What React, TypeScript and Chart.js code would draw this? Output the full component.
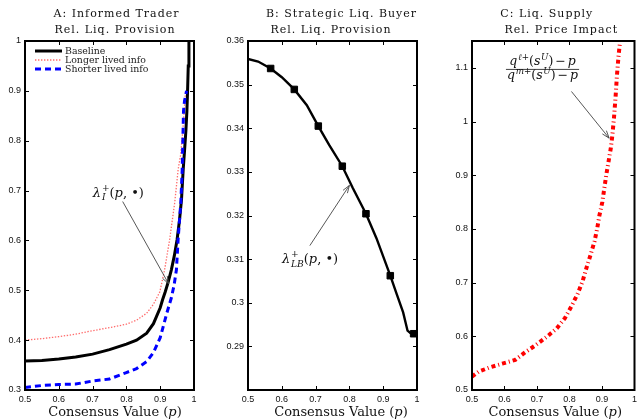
import React, { useEffect, useRef } from 'react';
import { Chart, registerables } from 'chart.js';
Chart.register(...registerables);

const SERIF = '"DejaVu Serif", "Liberation Serif", serif';
const SANS = '"Liberation Sans", Arial, sans-serif';

// ---------------- data ----------------
const xTicks = [0.5, 0.6, 0.7, 0.8, 0.9, 1];
const aYTicks = [0.3, 0.4, 0.5, 0.6, 0.7, 0.8, 0.9, 1];
const bYTicks = [0.29, 0.3, 0.31, 0.32, 0.33, 0.34, 0.35, 0.36];
const cYTicks = [0.5, 0.6, 0.7, 0.8, 0.9, 1, 1.1];

// Panel A: Informed trader relative liquidity provision
const aBaseP = [0.5, 0.55, 0.6, 0.65, 0.7, 0.75, 0.8, 0.83, 0.86, 0.88, 0.9, 0.907, 0.915, 0.923, 0.933, 0.942, 0.95, 0.957, 0.963, 0.968, 0.972, 0.976, 0.979, 0.981, 0.983, 0.985];
const aBaseV = [0.358, 0.359, 0.362, 0.366, 0.372, 0.381, 0.392, 0.4, 0.414, 0.433, 0.465, 0.481, 0.497, 0.515, 0.541, 0.57, 0.602, 0.64, 0.682, 0.742, 0.78, 0.82, 0.86, 0.9, 0.95, 1.02];
const aLongP = [0.5, 0.55, 0.6, 0.65, 0.7, 0.75, 0.8, 0.83, 0.86, 0.88, 0.899, 0.913, 0.928, 0.943, 0.953, 0.96, 0.967, 0.972, 0.975];
const aLongV = [0.4, 0.403, 0.407, 0.412, 0.419, 0.425, 0.432, 0.44, 0.454, 0.472, 0.497, 0.541, 0.602, 0.676, 0.742, 0.77, 0.82, 0.87, 0.9];
const aShortP = [0.5, 0.55, 0.6, 0.65, 0.7, 0.75, 0.8, 0.83, 0.86, 0.88, 0.9, 0.92, 0.933, 0.941, 0.948, 0.953, 0.961, 0.965, 0.967, 0.969, 0.972, 0.978];
const aShortV = [0.305, 0.309, 0.311, 0.312, 0.318, 0.322, 0.335, 0.343, 0.357, 0.375, 0.405, 0.455, 0.485, 0.51, 0.541, 0.602, 0.676, 0.74, 0.8, 0.86, 0.88, 0.9];
const aLegend = ['Baseline', 'Longer lived info', 'Shorter lived info'];

// Panel B: Strategic liquidity buyer
const bLineP = [0.5, 0.53, 0.567, 0.6, 0.637, 0.674, 0.708, 0.74, 0.779, 0.81, 0.849, 0.88, 0.921, 0.94, 0.959, 0.972, 0.98, 0.99];
const bLineV = [0.3559, 0.3553, 0.3537, 0.3517, 0.3489, 0.3453, 0.3405, 0.3362, 0.3313, 0.3263, 0.3204, 0.3148, 0.3062, 0.302, 0.2978, 0.2936, 0.2931, 0.2929];
const bMarkP = [0.567, 0.637, 0.708, 0.779, 0.849, 0.921, 0.99];
const bMarkV = [0.3537, 0.3489, 0.3405, 0.3313, 0.3204, 0.3062, 0.2929];

// Panel C: Liquidity supply relative price impact
const cP = [0.5, 0.52, 0.554, 0.593, 0.633, 0.663, 0.697, 0.732, 0.761, 0.786, 0.806, 0.825, 0.84, 0.852, 0.865, 0.877, 0.885, 0.892, 0.901, 0.907, 0.913, 0.92, 0.927, 0.932, 0.937, 0.942, 0.946, 0.951, 0.956];
const cV = [0.525, 0.534, 0.542, 0.549, 0.556, 0.57, 0.584, 0.6, 0.615, 0.634, 0.656, 0.679, 0.702, 0.727, 0.752, 0.777, 0.8, 0.825, 0.85, 0.875, 0.9, 0.925, 0.95, 0.975, 1.008, 1.048, 1.086, 1.123, 1.151];

// ---------------- text helpers ----------------
type Seg = { t: string; it?: boolean; sup?: string; sub?: string; supIt?: boolean; subIt?: boolean; gap?: number };

const fnt = (size: number, it?: boolean) => `${it ? 'italic ' : ''}${size}px ${SERIF}`;

function segWidth(ctx: CanvasRenderingContext2D, s: Seg, size: number) {
  ctx.font = fnt(size, s.it);
  const w = ctx.measureText(s.t).width;
  const ss = size * 0.7;
  let ws = 0;
  if (s.sup) { ctx.font = fnt(ss, s.supIt); ws = Math.max(ws, ctx.measureText(s.sup).width); }
  if (s.sub) { ctx.font = fnt(ss, s.subIt); ws = Math.max(ws, ctx.measureText(s.sub).width); }
  return w + ws + (ws ? size * 0.06 : 0) + (s.gap || 0);
}

function richWidth(ctx: CanvasRenderingContext2D, segs: Seg[], size: number) {
  return segs.reduce((a, s) => a + segWidth(ctx, s, size), 0);
}

function drawRich(ctx: CanvasRenderingContext2D, segs: Seg[], x: number, y: number, size: number, align: 'left' | 'center') {
  const total = richWidth(ctx, segs, size);
  let cx = align === 'center' ? x - total / 2 : x;
  ctx.textAlign = 'left';
  ctx.textBaseline = 'alphabetic';
  for (const s of segs) {
    ctx.font = fnt(size, s.it);
    ctx.fillText(s.t, cx, y);
    const w = ctx.measureText(s.t).width;
    const ss = size * 0.7;
    if (s.sup) { ctx.font = fnt(ss, s.supIt); ctx.fillText(s.sup, cx + w + size * 0.06, y - size * 0.42); }
    if (s.sub) { ctx.font = fnt(ss, s.subIt); ctx.fillText(s.sub, cx + w + size * 0.06, y + size * 0.3); }
    cx += segWidth(ctx, s, size);
  }
  return total;
}

function drawArrow(ctx: CanvasRenderingContext2D, x1: number, y1: number, x2: number, y2: number) {
  ctx.save();
  ctx.strokeStyle = '#444';
  ctx.lineWidth = 0.9;
  ctx.setLineDash([]);
  ctx.beginPath(); ctx.moveTo(x1, y1); ctx.lineTo(x2, y2); ctx.stroke();
  const a = Math.atan2(y2 - y1, x2 - x1);
  const L = 8, th = 0.33;
  ctx.beginPath();
  ctx.moveTo(x2 - L * Math.cos(a - th), y2 - L * Math.sin(a - th));
  ctx.lineTo(x2, y2);
  ctx.lineTo(x2 - L * Math.cos(a + th), y2 - L * Math.sin(a + th));
  ctx.stroke();
  ctx.restore();
}

const fmt = (v: number) => String(+Number(v).toFixed(3));
const pts = (xs: number[], ys: number[]) => xs.map((x, i) => ({ x, y: ys[i] }));

type Spec = {
  datasets: any[];
  yMin: number; yMax: number; yTicks: number[];
  yWidth: number; padRight: number;
  titles: [string, number][];
  xLabelDx: number;
  extra?: (chart: any, ctx: CanvasRenderingContext2D) => void;
};

function makeChart(canvas: HTMLCanvasElement, spec: Spec) {
  const frame = {
    id: 'frame',
    afterDraw(chart: any) {
      const ctx: CanvasRenderingContext2D = chart.ctx;
      const { left, right, top, bottom } = chart.chartArea;
      const xs = chart.scales.x, ys = chart.scales.y;
      ctx.save();
      // box
      ctx.strokeStyle = '#000';
      ctx.lineWidth = 2;
      ctx.setLineDash([]);
      ctx.strokeRect(left, top, right - left, bottom - top);
      // inward ticks
      ctx.lineWidth = 1;
      ctx.beginPath();
      xTicks.forEach((v) => {
        const px = Math.round(xs.getPixelForValue(v)) + 0.5;
        ctx.moveTo(px, bottom); ctx.lineTo(px, bottom - 4);
        ctx.moveTo(px, top); ctx.lineTo(px, top + 4);
      });
      spec.yTicks.forEach((v) => {
        const py = Math.round(ys.getPixelForValue(v)) + 0.5;
        ctx.moveTo(left, py); ctx.lineTo(left + 4, py);
        ctx.moveTo(right, py); ctx.lineTo(right - 4, py);
      });
      ctx.stroke();
      // titles
      const cxm = (left + right) / 2;
      ctx.fillStyle = '#111';
      ctx.textAlign = 'center';
      ctx.textBaseline = 'alphabetic';
      ctx.font = `11px ${SERIF}`;
      if ('letterSpacing' in ctx) (ctx as any).letterSpacing = '1px';
      spec.titles.forEach(([t, dx], i) => ctx.fillText(t, cxm + dx, 17 + i * 15.5));
      if ('letterSpacing' in ctx) (ctx as any).letterSpacing = '0px';
      // x label
      drawRich(ctx, [{ t: 'Consensus Value (' }, { t: 'p', it: true }, { t: ')' }], cxm + spec.xLabelDx, 416, 13, 'center');
      if (spec.extra) spec.extra(chart, ctx);
      ctx.restore();
    },
  };

  return new Chart(canvas, {
    type: 'line',
    data: { datasets: spec.datasets },
    options: {
      responsive: false,
      maintainAspectRatio: false,
      animation: false,
      events: [],
      layout: { padding: { left: 0, right: spec.padRight, top: 41, bottom: 0 }, autoPadding: false },
      plugins: { legend: { display: false }, tooltip: { enabled: false }, title: { display: false } },
      elements: { point: { radius: 0 }, line: { tension: 0 } },
      scales: {
        x: {
          type: 'linear', min: 0.5, max: 1,
          afterBuildTicks: (s: any) => { s.ticks = xTicks.map((v) => ({ value: v })); },
          afterFit: (s: any) => { s.height = 30; },
          grid: { display: false, drawTicks: false },
          border: { display: false },
          ticks: { autoSkip: false, maxRotation: 0, padding: 4, color: '#111', font: { family: SANS, size: 9 }, callback: (v: any) => fmt(v) },
        },
        y: {
          type: 'linear', min: spec.yMin, max: spec.yMax,
          afterBuildTicks: (s: any) => { s.ticks = spec.yTicks.map((v) => ({ value: v })); },
          afterFit: (s: any) => { s.width = spec.yWidth; },
          grid: { display: false, drawTicks: false },
          border: { display: false },
          ticks: { autoSkip: false, padding: 4, color: '#111', font: { family: SANS, size: 9 }, callback: (v: any) => fmt(v) },
        },
      },
    },
    plugins: [frame],
  } as any);
}

export default function App() {
  const refA = useRef<HTMLCanvasElement>(null);
  const refB = useRef<HTMLCanvasElement>(null);
  const refC = useRef<HTMLCanvasElement>(null);

  useEffect(() => {
    const base = { label: aLegend[0], data: pts(aBaseP, aBaseV), borderColor: '#000', borderWidth: 3, pointRadius: 0, order: 3 };
    const longer = { label: aLegend[1], data: pts(aLongP, aLongV), borderColor: '#ff6b6b', borderWidth: 1.3, borderDash: [1.4, 1.6], pointRadius: 0, order: 2 };
    const shorter = { label: aLegend[2], data: pts(aShortP, aShortV), borderColor: '#0000ff', borderWidth: 3, borderDash: [6, 4], pointRadius: 0, order: 1 };

    const chartA = makeChart(refA.current!, {
      datasets: [base, longer, shorter],
      yMin: 0.3, yMax: 1, yTicks: aYTicks, yWidth: 25, padRight: 20,
      titles: [['A: Informed Trader', 7], ['Rel. Liq. Provision', 5.5]],
      xLabelDx: 5.5,
      extra: (chart, ctx) => {
        const { left, top } = chart.chartArea;
        const xs = chart.scales.x, ys = chart.scales.y;
        // legend
        const ds = [base, longer, shorter];
        ds.forEach((d: any, i) => {
          const y = top + 10 + i * 9;
          ctx.save();
          ctx.strokeStyle = d.borderColor;
          ctx.lineWidth = d.borderWidth;
          ctx.setLineDash(d.borderDash || []);
          ctx.beginPath(); ctx.moveTo(left + 10, y); ctx.lineTo(left + 37, y); ctx.stroke();
          ctx.restore();
          ctx.fillStyle = '#222';
          ctx.font = `9.4px ${SERIF}`;
          ctx.textAlign = 'left';
          ctx.textBaseline = 'alphabetic';
          ctx.fillText(d.label, left + 40, y + 3);
        });
        // annotation
        ctx.fillStyle = '#111';
        drawRich(ctx, [{ t: 'λ', it: true, sup: '+', sub: 'I', subIt: true }, { t: '(' }, { t: 'p', it: true }, { t: ', ' }, { t: '•' }, { t: ')' }],
          xs.getPixelForValue(0.7008), ys.getPixelForValue(0.688), 13, 'left');
        drawArrow(ctx, xs.getPixelForValue(0.789), ys.getPixelForValue(0.678), xs.getPixelForValue(0.925), ys.getPixelForValue(0.513));
      },
    });

    const chartB = makeChart(refB.current!, {
      datasets: [
        { data: pts(bMarkP, bMarkV), showLine: false, pointStyle: 'rect', pointRadius: 4.6, backgroundColor: '#000', borderColor: '#000', borderWidth: 1, order: 1, clip: false },
        { data: pts(bLineP, bLineV), borderColor: '#000', borderWidth: 2.4, pointRadius: 0, order: 2 },
      ],
      yMin: 0.28, yMax: 0.36, yTicks: bYTicks, yWidth: 34, padRight: 11,
      titles: [['B: Strategic Liq. Buyer', 9], ['Rel. Liq. Provision', -1.5]],
      xLabelDx: 8.5,
      extra: (chart, ctx) => {
        const xs = chart.scales.x, ys = chart.scales.y;
        ctx.fillStyle = '#111';
        drawRich(ctx, [{ t: 'λ', it: true, sup: '+', sub: 'LB', subIt: true }, { t: '(' }, { t: 'p', it: true }, { t: ', ' }, { t: '•' }, { t: ')' }],
          xs.getPixelForValue(0.6006), ys.getPixelForValue(0.3092), 13, 'left');
        drawArrow(ctx, xs.getPixelForValue(0.683), ys.getPixelForValue(0.3131), xs.getPixelForValue(0.8), ys.getPixelForValue(0.3269));
      },
    });

    const chartC = makeChart(refC.current!, {
      datasets: [
        { data: pts(cP, cV), borderColor: '#ff0000', borderWidth: 4, borderDash: [4, 3, 1, 3], borderCapStyle: 'butt', pointRadius: 0 },
      ],
      yMin: 0.5, yMax: 1.15, yTicks: cYTicks, yWidth: 44, padRight: 0,
      titles: [['C: Liq. Supply', -6.5], ['Rel. Price Impact', 8]],
      xLabelDx: 2,
      extra: (chart, ctx) => {
        const xs = chart.scales.x, ys = chart.scales.y;
        const cx = xs.getPixelForValue(0.717);
        const by = ys.getPixelForValue(1.098);
        const size = 12.5;
        const num: Seg[] = [{ t: 'q', it: true, sup: 'ℓ+', supIt: true }, { t: '(' }, { t: 's', it: true, sup: 'U', supIt: true }, { t: ')', gap: 2 }, { t: '−', gap: 2 }, { t: 'p', it: true }];
        const den: Seg[] = [{ t: 'q', it: true, sup: 'm+', supIt: true }, { t: '(' }, { t: 's', it: true, sup: 'U', supIt: true }, { t: ')', gap: 2 }, { t: '−', gap: 2 }, { t: 'p', it: true }];
        ctx.fillStyle = '#111';
        const w1 = drawRich(ctx, num, cx, by - 4, size, 'center');
        const w2 = drawRich(ctx, den, cx, by + 10.5, size, 'center');
        const w = Math.max(w1, w2) + 2;
        ctx.strokeStyle = '#111';
        ctx.lineWidth = 0.8;
        ctx.setLineDash([]);
        ctx.beginPath(); ctx.moveTo(cx - w / 2, by + 0.5); ctx.lineTo(cx + w / 2, by + 0.5); ctx.stroke();
        drawArrow(ctx, xs.getPixelForValue(0.806), ys.getPixelForValue(1.056), xs.getPixelForValue(0.922), ys.getPixelForValue(0.969));
      },
    });

    return () => { chartA.destroy(); chartB.destroy(); chartC.destroy(); };
  }, []);

  const cs = (left: number, width: number): React.CSSProperties => ({ position: 'absolute', left, top: 0, width, height: 420 });
  return (
    <div style={{ position: 'absolute', left: 0, top: 0, width: 641, height: 420, background: '#fff', overflow: 'hidden' }}>
      <canvas ref={refA} width={214} height={420} style={cs(0, 214)} />
      <canvas ref={refB} width={214} height={420} style={cs(214, 214)} />
      <canvas ref={refC} width={213} height={420} style={cs(428, 213)} />
    </div>
  );
}
